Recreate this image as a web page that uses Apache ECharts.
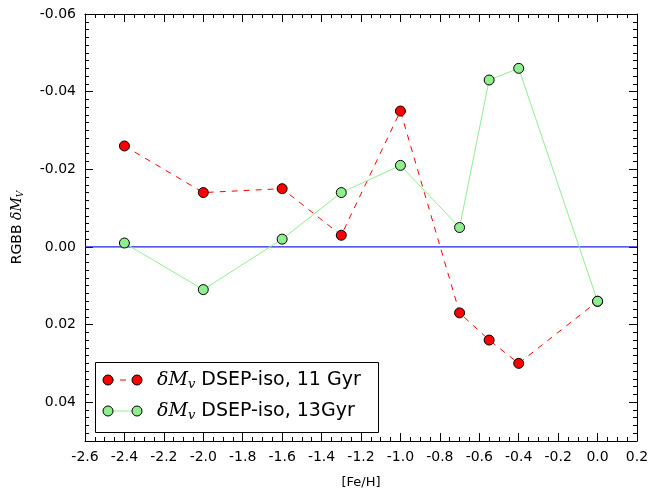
<!DOCTYPE html>
<html>
<head>
<meta charset="utf-8">
<script src="https://cdn.jsdelivr.net/npm/echarts@6/dist/echarts.min.js"></script>
<style>
  html, body { margin: 0; padding: 0; background: #fff; }
  #chart { width: 652px; height: 495px; }
</style>
</head>
<body>
<div id="chart"></div>
<script>
// [Fe/H] values
const feh = [-2.4, -2.0, -1.6, -1.3, -1.0, -0.7, -0.55, -0.4, 0.0];
// RGBB dMv, 11 Gyr
const dm11 = [-0.026, -0.014, -0.015, -0.003, -0.035, 0.017, 0.024, 0.030, 0.014];
// RGBB dMv, 13 Gyr
const dm13 = [-0.001, 0.011, -0.002, -0.014, -0.021, -0.005, -0.043, -0.046, 0.014];
// reference line at zero
const zeroLine = [[-2.6, 0], [0.2, 0]];

const font = "DejaVu Sans";
const chart = echarts.init(document.getElementById("chart"));

const fmt = (d) => (v) => {
  if (Math.abs(v) < 1e-9) v = 0;
  return v.toFixed(d);
};

const tickStyle = {
  axisLine: { show: true, onZero: false, lineStyle: { color: "#000", width: 1 } },
  axisTick: { show: true, inside: true, length: 8, lineStyle: { color: "#000" } },
  splitLine: { show: false },
};

const mkSeries = (name, ys, color, lineType, lineColor) => ({
  name: name,
  type: "line",
  data: feh.map((x, i) => [x, ys[i]]),
  symbol: "circle",
  symbolSize: 10,
  itemStyle: { color: color, borderColor: "#000", borderWidth: 1 },
  lineStyle: { color: lineColor, width: 1, type: lineType },
  z: 3,
});

const legendRich = {
  d: { fontFamily: "DejaVu Serif", fontStyle: "italic", fontSize: 19, fill: "#000" },
  s: { fontFamily: "DejaVu Serif", fontStyle: "italic", fontSize: 13, fill: "#000", padding: [10, 0, 0, 0] },
  t: { fontFamily: font, fontSize: 19, fill: "#000" },
};

// legend entry drawn as marker - line - marker like the original
const legendItem = (y, color, dash, label) => [
  { type: "line", shape: { x1: 108, y1: y, x2: 137, y2: y },
    style: { stroke: color, lineWidth: 1, lineDash: dash }, z: 101 },
  { type: "circle", shape: { cx: 108, cy: y, r: 5 },
    style: { fill: color, stroke: "#000", lineWidth: 1 }, z: 102 },
  { type: "circle", shape: { cx: 137, cy: y, r: 5 },
    style: { fill: color, stroke: "#000", lineWidth: 1 }, z: 102 },
  { type: "text", x: 157, y: y, z: 102,
    style: { text: label, rich: legendRich, verticalAlign: "middle", align: "left" } },
];

const option = {
  animation: false,
  backgroundColor: "#fff",
  grid: { left: 85, right: 15, top: 14, bottom: 54 },
  graphic: [
    { type: "rect", shape: { x: 95.5, y: 362.5, width: 283, height: 70 },
      style: { fill: "#fff", stroke: "#000", lineWidth: 1 }, z: 100 },
  ].concat(
    legendItem(380, "#ff0000", [6, 6], "{d|δM}{s|v}{t| DSEP-iso, 11 Gyr}"),
    legendItem(411, "#90ee90", null, "{d|δM}{s|v}{t| DSEP-iso, 13Gyr}")
  ),
  xAxis: [
    Object.assign({
      type: "value",
      min: -2.6,
      max: 0.2,
      interval: 0.2,
      name: "[Fe/H]",
      nameLocation: "middle",
      nameGap: 35,
      nameTextStyle: { fontFamily: font, fontSize: 13, color: "#000" },
      axisLabel: { fontFamily: font, fontSize: 14, color: "#000", margin: 9, formatter: fmt(1) },
      minorTick: { show: true, splitNumber: 4, length: 4, lineStyle: { color: "#000" } },
    }, tickStyle),
    Object.assign({
      type: "value",
      position: "top",
      min: -2.6,
      max: 0.2,
      interval: 0.2,
      axisLabel: { show: false },
      minorTick: { show: true, splitNumber: 4, length: 4, lineStyle: { color: "#000" } },
    }, tickStyle),
  ],
  yAxis: [
    Object.assign({
      type: "value",
      inverse: true,
      min: -0.06,
      max: 0.05,
      interval: 0.02,
      name: "{a|RGBB }{d|δM}{s|V}",
      nameLocation: "middle",
      nameGap: 60,
      nameRotate: 90,
      nameTextStyle: {
        rich: {
          a: { fontFamily: font, fontSize: 14, color: "#000" },
          d: { fontFamily: "DejaVu Serif", fontStyle: "italic", fontSize: 14, color: "#000" },
          s: { fontFamily: "DejaVu Serif", fontStyle: "italic", fontSize: 9, color: "#000", padding: [7, 0, 0, 0] },
        },
      },
      axisLabel: { fontFamily: font, fontSize: 14, color: "#000", margin: 9, showMaxLabel: false, formatter: fmt(2) },
      minorTick: { show: true, splitNumber: 10, length: 4, lineStyle: { color: "#000" } },
    }, tickStyle),
    Object.assign({
      type: "value",
      position: "right",
      inverse: true,
      min: -0.06,
      max: 0.05,
      interval: 0.02,
      axisLabel: { show: false },
      minorTick: { show: true, splitNumber: 10, length: 4, lineStyle: { color: "#000" } },
    }, tickStyle),
  ],
  series: [
    {
      name: "zero",
      type: "line",
      data: zeroLine,
      symbol: "none",
      silent: true,
      lineStyle: { color: "#2222ee", width: 1.2 },
      z: 2,
    },
    mkSeries("11", dm11, "#ff0000", [6, 6], "#ff0000"),
    mkSeries("13", dm13, "#90ee90", "solid", "#90ee90"),
  ],
};

chart.setOption(option);
</script>
</body>
</html>
